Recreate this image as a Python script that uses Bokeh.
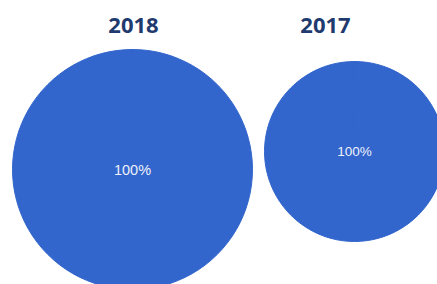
from math import pi
from bokeh.plotting import figure
from bokeh.models import ColumnDataSource, Range1d
from bokeh.core.properties import value
from bokeh.embed import file_html
from bokeh.resources import INLINE

# data
years = ["2018", "2017"]
categories = ["Total"]
values_2018 = [100]
values_2017 = [100]

W, H = 437, 284
p = figure(width=W, height=H, output_backend="svg", toolbar_location=None,
           x_range=Range1d(0, W), y_range=Range1d(0, H), min_border=0)
p.axis.visible = False
p.grid.visible = False
p.outline_line_color = None
p.background_fill_color = "white"

# layout for each pie: (center x, center y, radius, label size, title x)
layout = [(132, 115, 120, "14.5px", 133), (354, 133, 90, "13.5px", 325)]

for year, vals, (cx, cy, r, lsize, tx) in zip(years, [values_2018, values_2017], layout):
    total = sum(vals)
    starts, ends = [], []
    acc = 0.0
    for v in vals:
        a0 = pi / 2 - 2 * pi * (acc + v) / total
        a1 = pi / 2 - 2 * pi * acc / total
        if a1 - a0 >= 2 * pi - 1e-9:
            a0 += 1e-4
        starts.append(a0)
        ends.append(a1)
        acc += v
    src = ColumnDataSource(dict(cat=categories, start=starts, end=ends,
                                x=[cx] * len(vals), y=[cy] * len(vals)))
    p.wedge(x="x", y="y", radius=r, start_angle="start", end_angle="end",
            fill_color="#3366cc", line_color="#3366cc", line_width=1, source=src)
    lab = ColumnDataSource(dict(x=[cx], y=[cy],
                                t=[f"{vals[0] / total * 100:.0f}%"]))
    p.text(x="x", y="y", text="t", source=lab, text_align="center",
           text_baseline="middle", text_color="#eef1fa", text_font_size=lsize,
           text_font=value("Liberation Sans"))
    p.text(x=[tx], y=[H - 25], text=[year], text_align="center",
           text_baseline="middle", text_color="#1f3a6e", text_font_size="22px",
           text_font=value("Open Sans"), text_font_style="bold")

open("out.html", "w").write(file_html(p, INLINE))
